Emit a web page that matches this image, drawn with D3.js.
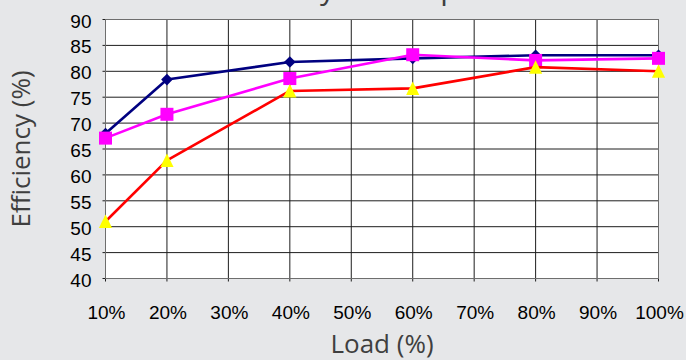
<!DOCTYPE html>
<html>
<head>
<meta charset="utf-8">
<script src="https://cdn.jsdelivr.net/npm/d3@7"></script>
<style>
  html, body { margin: 0; padding: 0; background: #e6e7e9; }
  svg { display: block; }
</style>
</head>
<body>
<svg id="chart" width="686" height="360"></svg>
<script>
// Load points (%) and measured efficiency (%) for each unit
const loads = [10, 20, 40, 60, 80, 100];
const effNavy = [68.0, 78.4, 81.8, 82.5, 83.1, 83.1];
const effMagenta = [67.1, 71.7, 78.6, 83.2, 82.1, 82.5];
const effRed = [51.0, 62.8, 76.2, 76.7, 80.8, 80.0];

// Axis ticks
const xTicks = [10, 20, 30, 40, 50, 60, 70, 80, 90, 100];
const xTickLabels = ["10%", "20%", "30%", "40%", "50%", "60%", "70%", "80%", "90%", "100%"];
const yTicks = [40, 45, 50, 55, 60, 65, 70, 75, 80, 85, 90];

const titleText = "Efficiency vs. Output";
const xTitle = "Load (%)";
const yTitle = "Efficiency (%)";

const W = 686, H = 360;
const margin = { top: 19.5, right: 27.5, bottom: 81.5, left: 105.5 };
const svg = d3.select("#chart");

const x = d3.scaleLinear().domain([10, 100]).range([margin.left, W - margin.right]);
const y = d3.scaleLinear().domain([40, 90]).range([H - margin.bottom, margin.top]);

// Chart title (sits mostly above the top edge)
svg.append("text")
  .attr("x", 204).attr("y", -1)
  .attr("font-family", "'Open Sans', sans-serif")
  .attr("font-size", 30)
  .attr("fill", "#3f3f3f")
  .text(titleText);

// Plot area
svg.append("rect")
  .attr("x", margin.left).attr("y", margin.top)
  .attr("width", x(100) - x(10)).attr("height", y(40) - y(90))
  .attr("fill", "#ffffff");

// Grid lines
const grid = svg.append("g");
grid.selectAll("line.h").data(yTicks).join("line")
  .attr("class", "h")
  .attr("x1", x(10) - 3).attr("x2", x(100))
  .attr("y1", d => y(d)).attr("y2", d => y(d))
  .attr("stroke", "#1e1e1e").attr("stroke-width", 1);
grid.selectAll("line.v").data(xTicks).join("line")
  .attr("class", "v")
  .attr("x1", d => x(d)).attr("x2", d => x(d))
  .attr("y1", y(90)).attr("y2", y(40) + 3)
  .attr("stroke", "#1e1e1e").attr("stroke-width", 1);

// Plot border
svg.append("rect")
  .attr("x", margin.left).attr("y", margin.top)
  .attr("width", x(100) - x(10)).attr("height", y(40) - y(90))
  .attr("fill", "none")
  .attr("stroke", "#6e6e6e").attr("stroke-width", 1);

// Tick labels
svg.append("g").selectAll("text").data(yTicks).join("text")
  .attr("x", margin.left - 14)
  .attr("y", d => y(d) + 8)
  .attr("text-anchor", "end")
  .attr("font-family", "'Liberation Sans', Arial, sans-serif")
  .attr("font-size", 19)
  .attr("fill", "#000")
  .text(d => d);

svg.append("g").selectAll("text").data(xTicks).join("text")
  .attr("x", d => x(d) + 1)
  .attr("y", H - margin.bottom + 40)
  .attr("text-anchor", "middle")
  .attr("font-family", "'Liberation Sans', Arial, sans-serif")
  .attr("font-size", 19)
  .attr("fill", "#000")
  .text((d, i) => xTickLabels[i]);

// Axis titles
svg.append("text")
  .attr("x", (x(10) + x(100)) / 2)
  .attr("y", 352.5)
  .attr("text-anchor", "middle")
  .attr("font-family", "'Open Sans', sans-serif")
  .attr("font-size", 26)
  .attr("fill", "#3f3f3f")
  .text(xTitle);

svg.append("text")
  .attr("transform", `translate(30,${(y(40) + y(90)) / 2}) rotate(-90)`)
  .attr("text-anchor", "middle")
  .attr("font-family", "'Open Sans', sans-serif")
  .attr("font-size", 26)
  .attr("fill", "#3f3f3f")
  .text(yTitle);

// Series
const line = d3.line().x(d => x(d[0])).y(d => y(d[1]));

const series = [
  { values: effNavy, stroke: "#000080", fill: "#000080", shape: "diamond" },
  { values: effMagenta, stroke: "#ff00ff", fill: "#ff00ff", shape: "square" },
  { values: effRed, stroke: "#ff0000", fill: "#ffff00", shape: "triangle" }
];

const shapes = {
  diamond: "M0,-5.8L5.8,0L0,5.8L-5.8,0Z",
  square: "M-6.5,-6.5H6.5V6.5H-6.5Z",
  triangle: "M0,-7L6.6,6.5H-6.6Z"
};

series.forEach(s => {
  const pts = loads.map((l, i) => [l, s.values[i]]);
  const g = svg.append("g");
  g.append("path")
    .attr("d", line(pts))
    .attr("fill", "none")
    .attr("stroke", s.stroke)
    .attr("stroke-width", 2.6)
    .attr("stroke-linejoin", "round");
  g.selectAll("path.m").data(pts).join("path")
    .attr("class", "m")
    .attr("transform", d => `translate(${x(d[0])},${y(d[1])})`)
    .attr("d", shapes[s.shape])
    .attr("fill", s.fill);
});
</script>
</body>
</html>
